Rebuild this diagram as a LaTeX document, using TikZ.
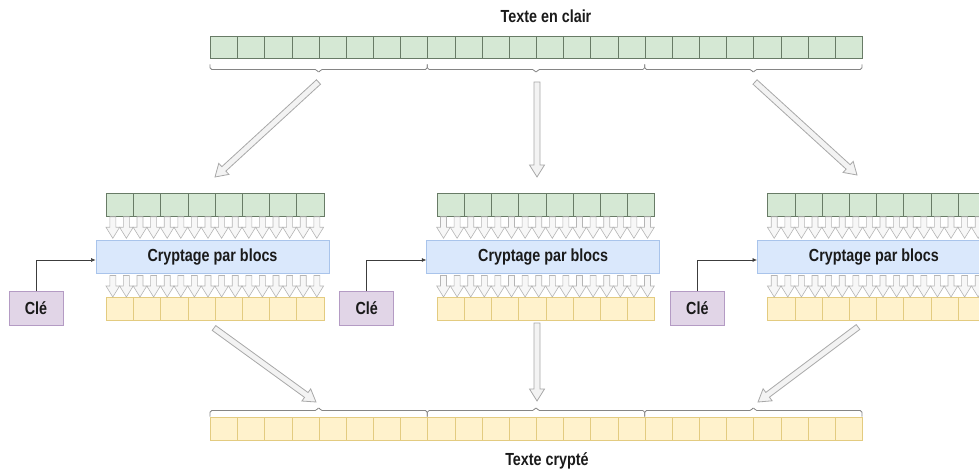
\documentclass[tikz,border=0pt]{standalone}
\usepackage{fontspec}
\usepackage{graphicx}
\setmainfont{Liberation Sans}
\usetikzlibrary{calc,arrows.meta}

\definecolor{plainfill}{HTML}{D5E8D4}
\definecolor{plainline}{HTML}{687B66}
\definecolor{cipherfill}{HTML}{FFF2CC}
\definecolor{cipherline}{HTML}{E3CB80}
\definecolor{cryptfill}{HTML}{DAE8FC}
\definecolor{cryptline}{HTML}{A9C4EB}
\definecolor{keyfill}{HTML}{E1D5E7}
\definecolor{keyline}{HTML}{B49BC4}
\definecolor{flowfill}{HTML}{F3F3F3}
\definecolor{flowline}{HTML}{A8A8A8}
\definecolor{inkcol}{HTML}{1A1A1A}

% slightly condensed label text
\newcommand\cnd[1]{\scalebox{0.82}[1]{#1}}

% hollow block arrow from #1 to #2
\newcommand\bigarrow[2]{%
  \coordinate (ha) at ($(#2)!12pt!(#1)$);
  \draw[flowarrow]
    ($(#1)!3pt!90:(#2)$) -- ($(ha)!3pt!90:(#2)$) -- ($(ha)!7.5pt!90:(#2)$)
    -- (#2) -- ($(ha)!7.5pt!-90:(#2)$) -- ($(ha)!3pt!-90:(#2)$)
    -- ($(#1)!3pt!-90:(#2)$) -- cycle;
}

% flat curly bracket from x=#1 to x=#2, ends at y=#3, bar at y=#4, tip at y=#5
\newcommand\flatbrace[5]{%
  \draw[bracel] (#1,#3) -- (#1,#4) -- ({(#1+#2)/2-1.6},#4) -- ({(#1+#2)/2},#5)
    -- ({(#1+#2)/2+1.6},#4) -- (#2,#4) -- (#2,#3);
}

\tikzset{
  cell/.style={draw, line width=0.8pt, anchor=north west, inner sep=0pt,
    minimum width=27.2pt, minimum height=22.5pt},
  plaincell/.style={cell, fill=plainfill, draw=plainline},
  ciphercell/.style={cell, fill=cipherfill, draw=cipherline},
  txt/.style={text=inkcol, font=\bfseries\fontsize{17.5}{20}\selectfont, inner sep=0pt},
  cryptbox/.style={txt, draw=cryptline, fill=cryptfill, line width=0.8pt,
    minimum width=233pt, minimum height=33.3pt},
  keybox/.style={txt, draw=keyline, fill=keyfill, line width=0.8pt,
    minimum width=54pt, minimum height=34pt},
  keywire/.style={draw=inkcol!85, line width=0.6pt, -{Latex[length=4.5pt,width=4pt]}},
  flowarrow/.style={draw=flowline, fill=flowfill, line width=0.8pt, line join=miter},
  smallarr/.style={draw=flowline!85, fill=white!97!black, line width=0.6pt},
  bracel/.style={draw=black!48, line width=0.8pt, rounded corners=1.8pt},
  dnarrow/.pic={\draw[smallarr] (-3,0) -- (-3,10.5) -- (-6.8,10.5) -- (0,21.5)
    -- (6.8,10.5) -- (3,10.5) -- (3,0) -- cycle;}
}

\begin{document}
\begin{tikzpicture}[x=1pt, y=-1pt]
\useasboundingbox (0,0) rectangle (979,470);
\clip (0,0) rectangle (979,470);

% titles
\node[txt, anchor=base] (plaintitle) at (546,23) {\cnd{Texte en clair}};
\node[txt, anchor=base] (ciphertitle) at (547,465) {\cnd{Texte crypté}};

% full plaintext and ciphertext rows
\foreach \i in {0,...,23} {
  \node[plaincell] (top\i) at ({210+27.167*\i},36) {};
  \node[ciphercell] (bot\i) at ({210+27.167*\i},417) {};
}

% brackets grouping the rows into three blocks
\foreach \a/\bb in {210/427.33, 427.33/644.67, 644.67/862} {
  \flatbrace{\a}{\bb}{64.5}{69.5}{73.5}
  \flatbrace{\a}{\bb}{416.5}{410.5}{406.5}
}

% one encryption stage per block
\foreach \b/\xo in {1/106, 2/436.7, 3/767.4} {
  \foreach \i in {0,...,7} {
    \node[plaincell] (g\b-\i) at ({\xo+27.2*\i},193.3) {};
    \node[ciphercell] (y\b-\i) at ({\xo+27.2*\i},297) {};
  }
  \foreach \k in {0,...,15} {
    \pic at ({\xo+6.8+13.6*\k},216.8) {dnarrow};
    \pic at ({\xo+6.8+13.6*\k},275.5) {dnarrow};
  }
  \node[cryptbox] (box\b) at ({\xo+106.5},256.7) {\cnd{Cryptage par blocs}};
  \node[keybox] (key\b) at ({\xo-70},308.5) {\cnd{Clé}};
  \draw[keywire] (key\b.north) |- ($(box\b.west)+(0,3.3)$);
}

% block distribution arrows
\coordinate (srcA) at (318.5,82);
\coordinate (srcB) at (537,82);
\coordinate (srcC) at (755,82);
\coordinate (inA) at (215,177);
\coordinate (inB) at (537,177);
\coordinate (inC) at (857,175);
\coordinate (outA) at (214,328);
\coordinate (outB) at (537,323);
\coordinate (outC) at (858,327);
\coordinate (dstA) at (316,402);
\coordinate (dstB) at (537,401);
\coordinate (dstC) at (758,402);

\bigarrow{srcA}{inA}
\bigarrow{srcB}{inB}
\bigarrow{srcC}{inC}
\bigarrow{outA}{dstA}
\bigarrow{outB}{dstB}
\bigarrow{outC}{dstC}
\end{tikzpicture}
\end{document}
